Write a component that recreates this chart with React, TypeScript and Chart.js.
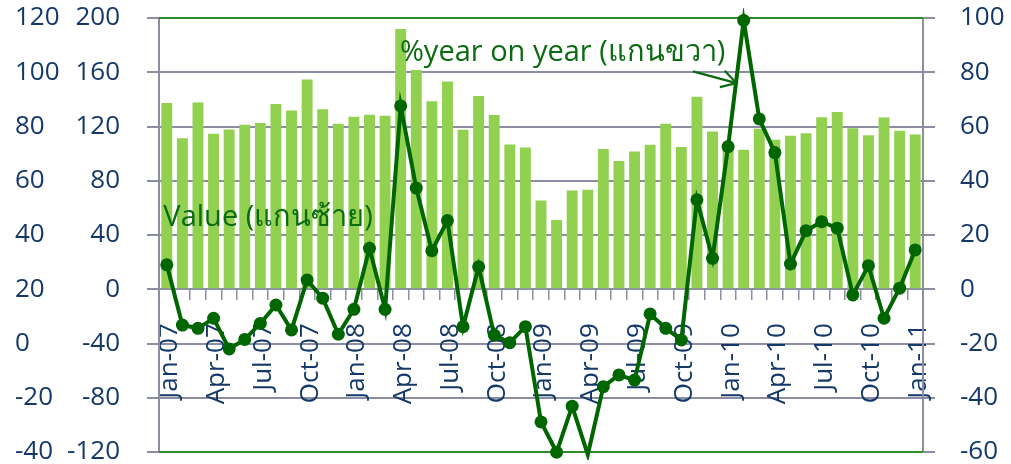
import React, { useEffect, useRef } from 'react';
import { Chart, registerables } from 'chart.js';

Chart.register(...registerables);

// ---- data ----
const categories = [
  'Jan-07', 'Feb-07', 'Mar-07', 'Apr-07', 'May-07', 'Jun-07', 'Jul-07', 'Aug-07', 'Sep-07', 'Oct-07', 'Nov-07', 'Dec-07',
  'Jan-08', 'Feb-08', 'Mar-08', 'Apr-08', 'May-08', 'Jun-08', 'Jul-08', 'Aug-08', 'Sep-08', 'Oct-08', 'Nov-08', 'Dec-08',
  'Jan-09', 'Feb-09', 'Mar-09', 'Apr-09', 'May-09', 'Jun-09', 'Jul-09', 'Aug-09', 'Sep-09', 'Oct-09', 'Nov-09', 'Dec-09',
  'Jan-10', 'Feb-10', 'Mar-10', 'Apr-10', 'May-10', 'Jun-10', 'Jul-10', 'Aug-10', 'Sep-10', 'Oct-10', 'Nov-10', 'Dec-10',
  'Jan-11',
];

// Value (left axis)
const valueSeries = [
  137.3, 111.4, 137.7, 114.6, 117.8, 121.3, 122.5, 136.5, 131.8, 154.7, 132.8, 122.0,
  127.2, 128.6, 127.9, 191.9, 161.6, 138.7, 153.2, 117.6, 142.4, 128.4, 106.7, 104.5,
  65.4, 51.1, 72.8, 73.3, 103.5, 94.5, 101.6, 106.5, 122.0, 104.8, 141.9, 116.3,
  104.0, 102.8, 118.3, 110.2, 113.1, 115.1, 126.9, 130.6, 118.8, 113.6, 126.6, 116.8,
  114.1,
];

// %year on year (right axis)
const yoySeries = [
  9.0, -13.2, -14.4, -10.7, -22.0, -18.5, -12.6, -5.8, -15.0, 3.4, -3.3, -16.6,
  -7.4, 15.1, -7.4, 67.6, 37.3, 14.2, 25.3, -13.8, 8.3, -16.9, -19.7, -13.8,
  -48.9, -60.1, -43.1, -61.0, -35.9, -31.6, -33.5, -9.1, -14.4, -18.7, 33.0, 11.4,
  52.6, 99.1, 62.8, 50.4, 9.3, 21.6, 24.9, 22.5, -2.1, 8.7, -10.7, 0.4,
  14.5,
];

// axis ranges / tick steps
const leftAxis = { min: -120, max: 200, step: 40 };
const outerLeftAxis = { min: -40, max: 120, step: 20 };
const rightAxis = { min: -60, max: 100, step: 20 };
const labelEvery = 3;

// annotation texts (anchored in data units)
const valueNote = { text: 'Value (แกนซ้าย)', x: -0.22, y: 46.7 };
const yoyNote = { text: '%year on year (แกนขวา)', x: 14.95, y: 84.2 };
const arrowNote = { x1: 33.75, y1: 80.3, x2: 36.53, y2: 76.0 };

// ---- styles ----
const BAR = '#92D050';
const LINE = '#006600';
const NOTE = '#0B6B10';
const GRID = '#8B8EA2';
const FRAME = '#2F8A2A';
const TICK = '#14386A';
const FONT = "'Open Sans', 'DejaVu Sans', sans-serif";

const framePlugin = {
  id: 'frameLines',
  beforeDatasetsDraw(chart: any) {
    const { ctx, chartArea } = chart;
    ctx.save();
    ctx.strokeStyle = FRAME;
    ctx.lineWidth = 2;
    ctx.beginPath();
    ctx.moveTo(chartArea.left, chartArea.top);
    ctx.lineTo(chartArea.right, chartArea.top);
    ctx.moveTo(chartArea.left, chartArea.bottom);
    ctx.lineTo(chartArea.right, chartArea.bottom);
    ctx.stroke();
    ctx.restore();
  },
};

const notesPlugin = {
  id: 'notes',
  afterDatasetsDraw(chart: any) {
    const { ctx, scales } = chart;
    const x = scales.x;
    ctx.save();
    ctx.font = `29px ${FONT}`;
    ctx.fillStyle = NOTE;
    ctx.textAlign = 'left';
    ctx.textBaseline = 'alphabetic';
    ctx.fillText(valueNote.text, x.getPixelForValue(valueNote.x), scales.y.getPixelForValue(valueNote.y));
    ctx.fillText(yoyNote.text, x.getPixelForValue(yoyNote.x), scales.y2.getPixelForValue(yoyNote.y));

    const ax1 = x.getPixelForValue(arrowNote.x1);
    const ay1 = scales.y2.getPixelForValue(arrowNote.y1);
    const ax2 = x.getPixelForValue(arrowNote.x2);
    const ay2 = scales.y2.getPixelForValue(arrowNote.y2);
    const ang = Math.atan2(ay2 - ay1, ax2 - ax1);
    const head = 17;
    ctx.strokeStyle = NOTE;
    ctx.lineWidth = 2.2;
    ctx.beginPath();
    ctx.moveTo(ax1, ay1);
    ctx.lineTo(ax2, ay2);
    ctx.moveTo(ax2 + head * Math.cos(ang + Math.PI - 0.5), ay2 + head * Math.sin(ang + Math.PI - 0.5));
    ctx.lineTo(ax2, ay2);
    ctx.lineTo(ax2 + head * Math.cos(ang + Math.PI + 0.55), ay2 + head * Math.sin(ang + Math.PI + 0.55));
    ctx.stroke();
    ctx.restore();
  },
};

const tickFont = { family: FONT, size: 26, lineHeight: 0.9 };

const fixWidth = (w: number) => (s: any) => {
  s.width = w;
  s.paddingTop = 0;
  s.paddingBottom = 0;
};

export default function App() {
  const ref = useRef<HTMLCanvasElement>(null);

  useEffect(() => {
    const chart = new Chart(ref.current as HTMLCanvasElement, {
      type: 'bar',
      data: {
        labels: categories,
        datasets: [
          {
            type: 'line',
            label: '%year on year',
            data: yoySeries,
            yAxisID: 'y2',
            borderColor: LINE,
            backgroundColor: LINE,
            borderWidth: 4,
            pointRadius: (c: any) => (c.raw < rightAxis.min - 0.5 ? 0 : 6.5),
            pointBackgroundColor: LINE,
            pointBorderWidth: 0,
            tension: 0,
            order: 1,
            clip: { left: 10, top: 10, right: 10, bottom: 8 },
          } as any,
          {
            type: 'bar',
            label: 'Value',
            data: valueSeries,
            yAxisID: 'y',
            backgroundColor: BAR,
            barPercentage: 0.7,
            categoryPercentage: 1,
            order: 2,
          },
        ],
      },
      options: {
        animation: false,
        responsive: false,
        devicePixelRatio: 1,
        layout: { padding: { left: 15, right: 0, top: 18, bottom: 12 } },
        plugins: { legend: { display: false }, tooltip: { enabled: false } },
        scales: {
          x: {
            type: 'category',
            position: { y: 0 } as any,
            offset: true,
            grid: { offset: true, drawOnChartArea: false, color: GRID, lineWidth: 1.5, tickLength: 10 },
            border: { display: true, color: GRID, width: 2 },
            ticks: {
              autoSkip: false,
              minRotation: 90,
              maxRotation: 90,
              padding: 24,
              labelOffset: 3,
              color: TICK,
              font: tickFont,
              callback: (_v: any, i: number) => (i % labelEvery === 0 ? categories[i] : ''),
            },
            afterFit: (s: any) => {
              s.paddingLeft = 0;
              s.paddingRight = 0;
            },
          },
          y: {
            position: 'left',
            weight: 0,
            min: leftAxis.min,
            max: leftAxis.max,
            ticks: { stepSize: leftAxis.step, padding: 27, color: TICK, font: tickFont },
            grid: { color: GRID, lineWidth: 2, tickLength: 12 },
            border: { color: GRID, width: 2 },
            afterFit: fixWidth(93),
          },
          yOuter: {
            position: 'left',
            weight: 1,
            min: outerLeftAxis.min,
            max: outerLeftAxis.max,
            ticks: { stepSize: outerLeftAxis.step, crossAlign: 'far', padding: 0, color: TICK, font: tickFont },
            grid: { display: false },
            border: { display: false },
            afterFit: fixWidth(51),
          },
          y2: {
            position: 'right',
            min: rightAxis.min,
            max: rightAxis.max,
            ticks: { stepSize: rightAxis.step, padding: 25, color: TICK, font: tickFont },
            grid: { drawOnChartArea: false, color: GRID, lineWidth: 2, tickLength: 12 },
            border: { color: GRID, width: 2 },
            afterFit: fixWidth(88),
          },
        },
      } as any,
      plugins: [framePlugin, notesPlugin],
    });
    return () => chart.destroy();
  }, []);

  return (
    <div style={{ position: 'fixed', left: 0, top: 0, width: 1011, height: 464, background: '#fff' }}>
      <canvas ref={ref} width={1011} height={464} style={{ display: 'block', width: 1011, height: 464 }} />
    </div>
  );
}
